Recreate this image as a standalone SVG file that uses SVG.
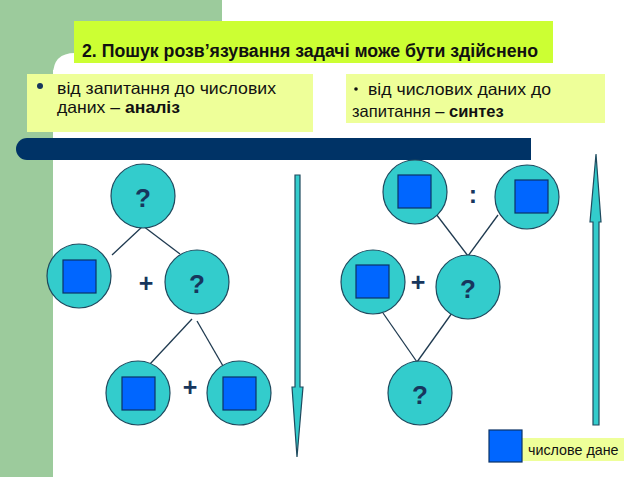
<svg xmlns="http://www.w3.org/2000/svg" width="638" height="479" viewBox="0 0 638 479">
<style>
.nd{fill:#33CCCC;stroke:#1F4A5E;stroke-width:1.2}
.sq{fill:#0066FF;stroke:#0B3366;stroke-width:1.2}
.q{font-family:"Liberation Sans",Arial,sans-serif;font-weight:bold;font-size:26px;fill:#17365D;text-anchor:middle}
.op{font-family:"Liberation Sans",Arial,sans-serif;font-weight:bold;font-size:25px;fill:#17365D;text-anchor:middle}
.t{font-family:"Liberation Sans",Arial,sans-serif;font-size:16.5px;fill:#111}
.ln{stroke:#1F3A50;stroke-width:1.3;fill:none}
.ar{fill:#33CCCC;stroke:#1F4A5E;stroke-width:1.2}
</style>
<rect width="638" height="479" fill="#FFFFFF"/>
<g id="background">
<rect x="0" y="0" width="222" height="70" fill="#9CCB9C"/>
<rect x="0" y="0" width="53" height="477" fill="#9CCB9C"/>
<path d="M53 75 Q53 53 75 53 L222 53 L222 75 Z" fill="#FFFFFF"/>
</g>
<g id="title">
<rect x="74" y="21" width="479" height="42" fill="#CCFF33"/>
<text x="82" y="57" font-family="'Liberation Sans',Arial,sans-serif" font-weight="bold" font-size="17.6" fill="#111" textLength="456" lengthAdjust="spacingAndGlyphs">2. Пошук розв’язування задачі може бути здійснено</text>
</g>
<g id="box-analysis">
<rect x="27" y="74" width="286" height="58" fill="#EEFF99"/>
<circle cx="40" cy="86" r="3" fill="#17365D"/>
<text class="t" x="57" y="94" textLength="219" lengthAdjust="spacingAndGlyphs">від запитання до числових</text>
<text class="t" x="57" y="113" textLength="123" lengthAdjust="spacingAndGlyphs">даних – <tspan font-weight="bold">аналіз</tspan></text>
</g>
<g id="box-synthesis">
<rect x="346" y="74" width="259" height="49" fill="#EEFF99"/>
<circle cx="356" cy="89" r="1.8" fill="#111"/>
<text class="t" x="368" y="95" textLength="183" lengthAdjust="spacingAndGlyphs">від числових даних до</text>
<text class="t" x="352" y="117">запитання – <tspan font-weight="bold">синтез</tspan></text>
</g>
<g id="bar">
<path d="M27 138 L531 138 L531 160 L27 160 A11 11 0 0 1 27 138 Z" fill="#003366"/>
</g>
<g id="connectors">
<line class="ln" x1="143" y1="226" x2="112" y2="255"/>
<line class="ln" x1="143" y1="226" x2="180" y2="254"/>
<line class="ln" x1="192" y1="319" x2="150" y2="364"/>
<line class="ln" x1="197" y1="321" x2="223" y2="366"/>
<line class="ln" x1="436" y1="214" x2="468" y2="256"/>
<line class="ln" x1="498" y1="215" x2="468" y2="256"/>
<line class="ln" x1="383" y1="313" x2="417" y2="362"/>
<line class="ln" x1="452" y1="313" x2="417" y2="362"/>
</g>
<g id="arrow-down">
<path class="ar" d="M295 175 L300 175 L300 387 L303 387 L297 457 L292 387 L295 387 Z"/>
</g>
<g id="arrow-up">
<path class="ar" d="M596 154 L601 222 L599 222 L599 425 L593 425 L593 222 L590 222 Z"/>
</g>
<g id="L-q1"><circle class="nd" cx="143" cy="196" r="32"/><text class="q" x="143" y="207">?</text></g>
<g id="L-n1"><circle class="nd" cx="79" cy="276" r="32"/><rect class="sq" x="63" y="260" width="33" height="33"/></g>
<g id="L-plus1"><text class="op" x="146" y="292">+</text></g>
<g id="L-q2"><circle class="nd" cx="197" cy="282" r="32"/><text class="q" x="197" y="293">?</text></g>
<g id="L-n2"><circle class="nd" cx="138" cy="393" r="32"/><rect class="sq" x="122" y="377" width="33" height="33"/></g>
<g id="L-plus2"><text class="op" x="190" y="396">+</text></g>
<g id="L-n3"><circle class="nd" cx="239" cy="393" r="32"/><rect class="sq" x="223" y="377" width="33" height="33"/></g>
<g id="R-n1"><circle class="nd" cx="415" cy="192" r="32"/><rect class="sq" x="398" y="175" width="33" height="33"/></g>
<g id="R-colon"><text class="op" x="473" y="203">:</text></g>
<g id="R-n2"><circle class="nd" cx="527" cy="197" r="32"/><rect class="sq" x="515" y="180" width="33" height="33"/></g>
<g id="R-n3"><circle class="nd" cx="373" cy="282" r="32"/><rect class="sq" x="356" y="265" width="33" height="33"/></g>
<g id="R-plus"><text class="op" x="418" y="291">+</text></g>
<g id="R-q1"><circle class="nd" cx="468" cy="287" r="32"/><text class="q" x="468" y="298">?</text></g>
<g id="R-q2"><circle class="nd" cx="420" cy="393" r="32"/><text class="q" x="420" y="404">?</text></g>
<g id="legend">
<rect x="522" y="438" width="102" height="23" fill="#EEFF99"/>
<rect class="sq" x="489" y="430" width="33" height="32"/>
<text x="528" y="455" font-family="'Liberation Sans',Arial,sans-serif" font-size="14.3" fill="#111">числове дане</text>
</g>
</svg>
